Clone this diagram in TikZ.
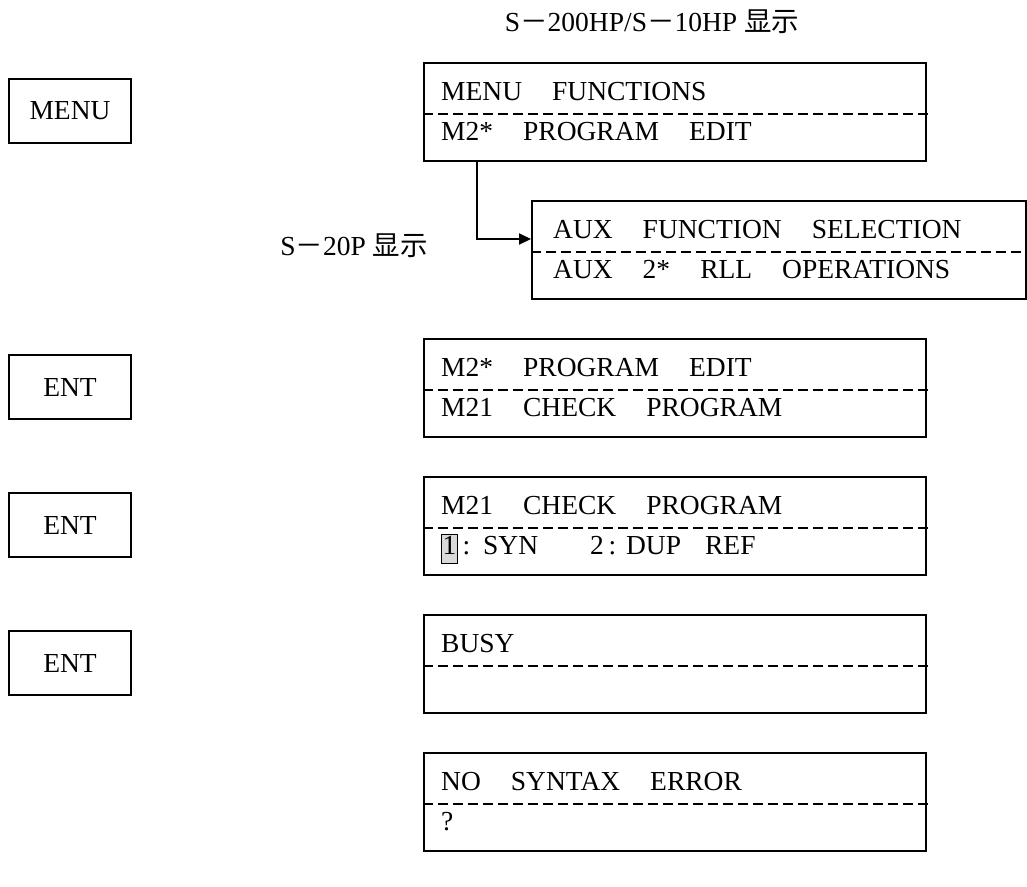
\documentclass[tikz,border=0pt]{standalone}
\usepackage{fontspec}
\setmainfont{Liberation Serif}
\newfontfamily\cjk{Noto Sans CJK SC}
\usetikzlibrary{arrows.meta}
\newcommand{\gp}{\hspace{30pt}}
\newcommand{\fw}[1]{{\cjk #1}}
\newcommand{\cursorbox}[1]{{\setlength{\fboxsep}{0.5pt}\setlength{\fboxrule}{1pt}\fcolorbox{black}{gray!30}{\rule[-8pt]{0pt}{26pt}#1}}}
\begin{document}
\begin{tikzpicture}[x=1pt,y=-1pt,
  font=\fontsize{27.5}{33}\selectfont,
  frame/.style={draw, line width=1.8pt, inner sep=0pt, anchor=north west, minimum height=98pt},
  key/.style={draw, line width=1.8pt, minimum width=122pt, minimum height=64pt, inner sep=0pt},
  sepline/.style={line width=1.5pt, dash pattern=on 10pt off 5pt},
  txt/.style={anchor=base west, inner sep=0pt},
  conn/.style={line width=1.8pt, -{Triangle[length=12pt,width=11pt]}}]
\useasboundingbox (0,0) rectangle (1027,886);

% title
\node[anchor=base, inner sep=0pt] (title) at (652,31) {S\fw{－}200HP/S\fw{－}10HP \fw{显示}};

% display 1
\node[frame, minimum width=502pt] (d1) at (423,62) {};
\draw[sepline] ([yshift=-52pt]d1.north west) -- ([yshift=-52pt,xshift=3pt]d1.north east);
\node[txt] (d1a) at ([xshift=18pt,yshift=-38pt]d1.north west) {MENU\gp FUNCTIONS};
\node[txt] (d1b) at ([xshift=18pt,yshift=-78pt]d1.north west) {M2*\gp PROGRAM\gp EDIT};
\node[key] (kmenu) at (70,111) {MENU};

% AUX display
\node[frame, minimum width=494pt] (aux) at (531,200) {};
\draw[sepline] ([yshift=-52pt]aux.north west) -- ([yshift=-52pt,xshift=3pt]aux.north east);
\node[txt] (auxa) at ([xshift=22pt,yshift=-38pt]aux.north west) {AUX\gp FUNCTION\gp SELECTION};
\node[txt] (auxb) at ([xshift=22pt,yshift=-78pt]aux.north west) {AUX\gp 2*\gp RLL\gp OPERATIONS};
\draw[conn] ([xshift=54pt]d1.south west) |- ([yshift=-39pt]aux.north west);
\node[anchor=base east, inner sep=0pt] (s20p) at (428,255) {S\fw{－}20P \fw{显示}};

% display 2
\node[frame, minimum width=502pt] (d2) at (423,338) {};
\draw[sepline] ([yshift=-52pt]d2.north west) -- ([yshift=-52pt,xshift=3pt]d2.north east);
\node[txt] (d2a) at ([xshift=18pt,yshift=-38pt]d2.north west) {M2*\gp PROGRAM\gp EDIT};
\node[txt] (d2b) at ([xshift=18pt,yshift=-78pt]d2.north west) {M21\gp CHECK\gp PROGRAM};
\node[key] (kent1) at (70,387) {ENT};

% display 3
\node[frame, minimum width=502pt] (d3) at (423,476) {};
\draw[sepline] ([yshift=-52pt]d3.north west) -- ([yshift=-52pt,xshift=3pt]d3.north east);
\node[txt] (d3a) at ([xshift=18pt,yshift=-38pt]d3.north west) {M21\gp CHECK\gp PROGRAM};
\node[txt] (d3b) at ([xshift=18pt,yshift=-78pt]d3.north west) {\cursorbox{1}\,:\hspace{13pt}SYN\hspace{52pt}2\,:\hspace{10pt}DUP\hspace{24pt}REF};
\node[key] (kent2) at (70,525) {ENT};

% display 4
\node[frame, minimum width=502pt] (d4) at (423,614) {};
\draw[sepline] ([yshift=-52pt]d4.north west) -- ([yshift=-52pt,xshift=3pt]d4.north east);
\node[txt] (d4a) at ([xshift=18pt,yshift=-38pt]d4.north west) {BUSY};
\node[key] (kent3) at (70,663) {ENT};

% display 5
\node[frame, minimum width=502pt] (d5) at (423,752) {};
\draw[sepline] ([yshift=-52pt]d5.north west) -- ([yshift=-52pt,xshift=3pt]d5.north east);
\node[txt] (d5a) at ([xshift=18pt,yshift=-38pt]d5.north west) {NO\gp SYNTAX\gp ERROR};
\node[txt] (d5b) at ([xshift=18pt,yshift=-78pt]d5.north west) {?};
\end{tikzpicture}
\end{document}
